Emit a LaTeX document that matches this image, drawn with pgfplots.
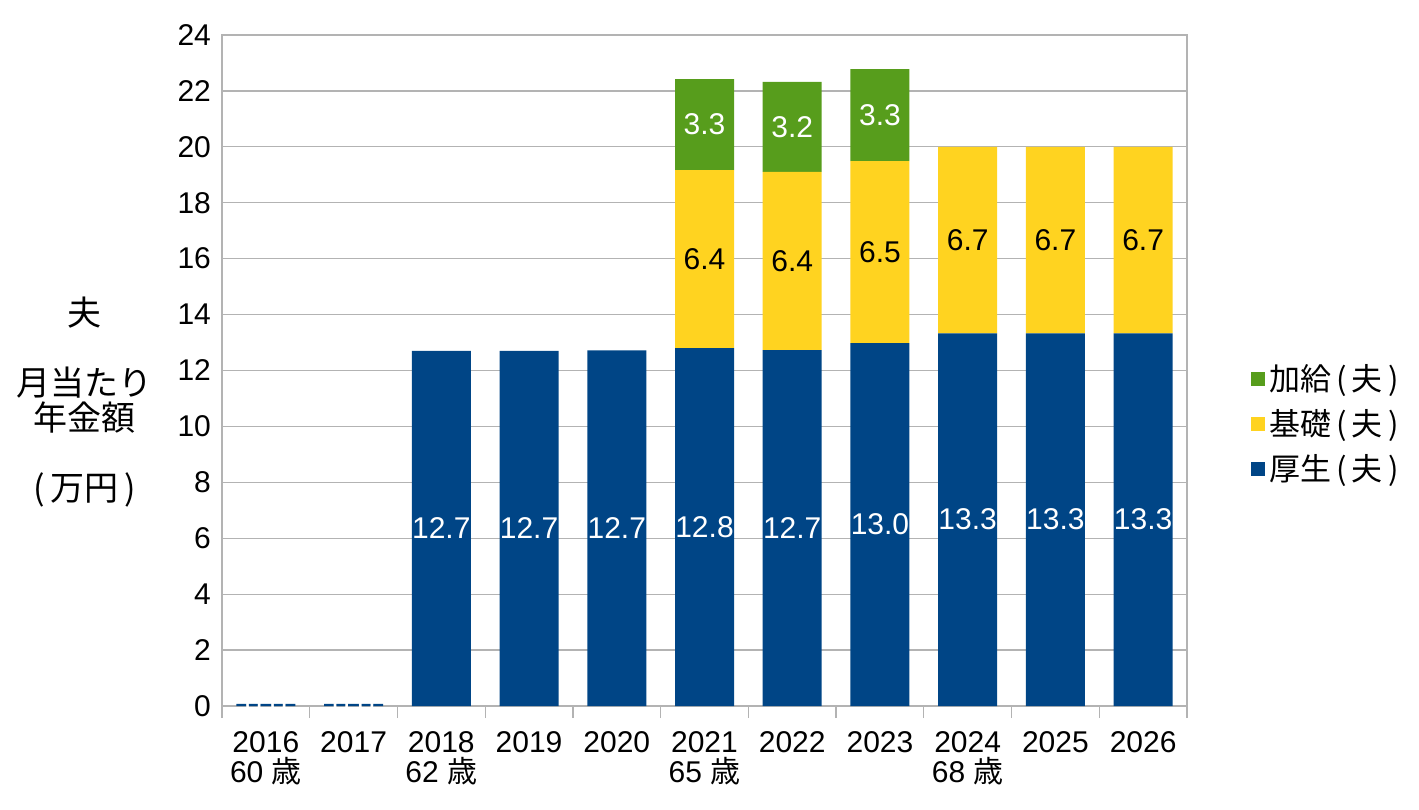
\documentclass[border=0pt]{standalone}
\usepackage{fontspec}
\setmainfont{Liberation Sans}
\newfontfamily\jp{Noto Sans CJK JP}
\usepackage{pgfplots}
\pgfplotsset{compat=1.18}
\definecolor{cblue}{HTML}{004586}
\definecolor{cyellow}{HTML}{FFD320}
\definecolor{cgreen}{HTML}{579D1C}
\definecolor{cgrid}{HTML}{B3B3B3}
\begin{document}
\begin{tikzpicture}
\begin{axis}[
  scale only axis, width=482.5pt, height=335.5pt,
  xmin=-0.5, xmax=10.5, ymin=0, ymax=24,
  ybar stacked, bar width=29.5pt,
  xtick={0,...,10},
  xticklabels={{2016\\60 {\jp 歳}},2017,{2018\\62 {\jp 歳}},2019,2020,{2021\\65 {\jp 歳}},2022,2023,{2024\\68 {\jp 歳}},2025,2026},
  minor xtick={-0.5,0.5,...,10.5},
  ytick={0,2,...,24},
  major tick length=0pt, minor tick length=6pt,
  tick align=outside, xtick pos=bottom, ytick pos=left,
  every tick/.style={cgrid, line width=0.6pt},
  axis line style={cgrid, line width=0.6pt},
  ymajorgrids, grid style={cgrid, line width=0.6pt},
  /pgf/number format/assume math mode=true,
  ticklabel style={font=\fontsize{15}{15}\selectfont},
  xticklabel style={align=center, yshift=-9pt},
  yticklabel style={xshift=-2pt},
  legend style={at={(1.066,0.42)}, anchor=west, draw=none, fill=none,
    font=\jp\fontsize{15.5}{18}\selectfont, row sep=4pt, inner sep=0pt},
  reverse legend,
  legend image code/.code={\fill[#1,draw=none] (0pt,-3.5pt) rectangle (7pt,3.5pt);},
]
\addplot[fill=cblue, draw=none] coordinates {(0,0.08)(1,0.08)(2,12.7)(3,12.7)(4,12.72)(5,12.8)(6,12.73)(7,12.98)(8,13.33)(9,13.33)(10,13.33)};
\addlegendentry{厚生\,(\,夫\,)}
\addplot[fill=cyellow, draw=none] coordinates {(0,0)(1,0)(2,0)(3,0)(4,0)(5,6.37)(6,6.37)(7,6.51)(8,6.67)(9,6.67)(10,6.67)};
\addlegendentry{基礎\,(\,夫\,)}
\addplot[fill=cgreen, draw=none] coordinates {(0,0)(1,0)(2,0)(3,0)(4,0)(5,3.25)(6,3.22)(7,3.29)(8,0)(9,0)(10,0)};
\addlegendentry{加給\,(\,夫\,)}
\end{axis}
\begin{axis}[
  scale only axis, width=482.5pt, height=335.5pt,
  xmin=-0.5, xmax=10.5, ymin=0, ymax=24,
  hide axis, clip=false,
  nodes near coords, point meta=explicit symbolic,
  every node near coord/.append style={anchor=center, font=\fontsize{15}{15}\selectfont, inner sep=0pt},
]
\addplot[draw=none, mark=none, every node near coord/.append style={text=white}] coordinates {
  (0,0.04)[0.0] (1,0.04)[0.0] (2,6.35)[12.7] (3,6.35)[12.7] (4,6.36)[12.7] (5,6.4)[12.8]
  (6,6.365)[12.7] (7,6.49)[13.0] (8,6.665)[13.3] (9,6.665)[13.3] (10,6.665)[13.3]};
\addplot[draw=none, mark=none, every node near coord/.append style={text=black}] coordinates {
  (5,15.985)[6.4] (6,15.915)[6.4] (7,16.235)[6.5] (8,16.665)[6.7] (9,16.665)[6.7] (10,16.665)[6.7]};
\addplot[draw=none, mark=none, every node near coord/.append style={text=white}] coordinates {
  (5,20.8)[3.3] (6,20.71)[3.2] (7,21.135)[3.3]};
\end{axis}
\node[align=center, font=\jp\fontsize{17}{17.5}\selectfont] at (-68.5pt,151.75pt)
  {夫\\[17.5pt]月当たり\\年金額\\[17.5pt](\,万円\,)};
\path (-111pt,-51.5pt) rectangle (598.5pt,353pt);
\end{tikzpicture}
\end{document}
